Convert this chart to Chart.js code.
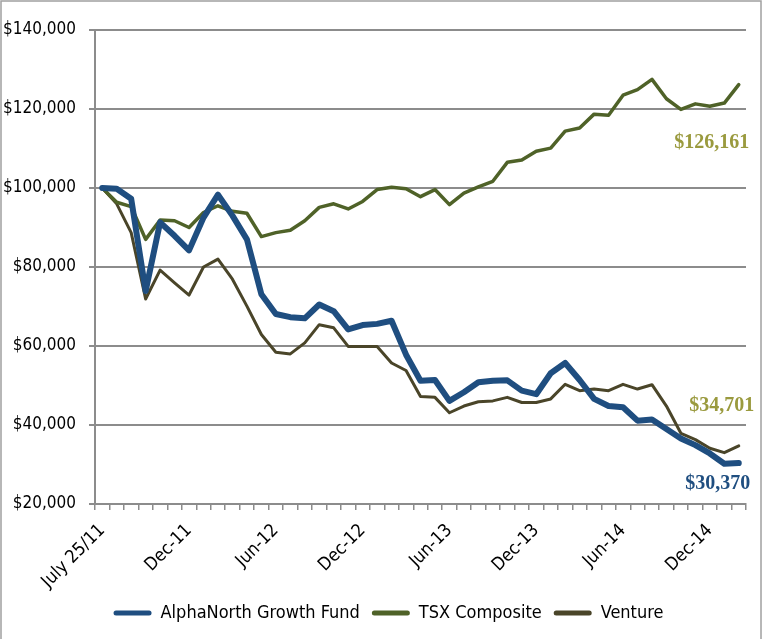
<!DOCTYPE html>
<html>
<head>
<meta charset="utf-8">
<script src="https://cdn.jsdelivr.net/npm/chart.js@4.4.1/dist/chart.umd.min.js"></script>
<style>
  html, body { margin: 0; padding: 0; background: #fff; }
  #wrap { width: 770px; height: 639px; }
</style>
</head>
<body>
<div id="wrap"><canvas id="chart" width="770" height="639"></canvas></div>
<script>
// month-end dates, first point is the fund start
const dates = [
    'July 25/11', 'Jul-11', 'Aug-11', 'Sep-11', 'Oct-11', 'Nov-11',
    'Dec-11', 'Jan-12', 'Feb-12', 'Mar-12', 'Apr-12', 'May-12',
    'Jun-12', 'Jul-12', 'Aug-12', 'Sep-12', 'Oct-12', 'Nov-12',
    'Dec-12', 'Jan-13', 'Feb-13', 'Mar-13', 'Apr-13', 'May-13',
    'Jun-13', 'Jul-13', 'Aug-13', 'Sep-13', 'Oct-13', 'Nov-13',
    'Dec-13', 'Jan-14', 'Feb-14', 'Mar-14', 'Apr-14', 'May-14',
    'Jun-14', 'Jul-14', 'Aug-14', 'Sep-14', 'Oct-14', 'Nov-14',
    'Dec-14', 'Jan-15', 'Feb-15'
];

const alphaNorth = [
    100000, 99800, 97300, 73900, 91300, 87900,
    84200, 92500, 98300, 93000, 87000, 73100,
    68100, 67300, 67000, 70500, 68800, 64200,
    65300, 65600, 66400, 57800, 51200, 51400,
    46100, 48300, 50800, 51200, 51300, 48700,
    47800, 53100, 55700, 51400, 46600, 44800,
    44500, 41100, 41400, 39000, 36600, 34900,
    32800, 30200, 30370
];

const tsx = [
    100000, 96400, 95300, 87000, 91900, 91700,
    90000, 93800, 95500, 94100, 93600, 87700,
    88700, 89300, 91700, 95100, 96000, 94700,
    96600, 99600, 100200, 99800, 97800, 99600,
    95800, 98700, 100300, 101700, 106500, 107100,
    109300, 110100, 114400, 115200, 118700, 118400,
    123500, 124900, 127500, 122600, 119900, 121300,
    120700, 121500, 126161
];

const venture = [
    100000, 96000, 88700, 71900, 79200, 76000,
    72900, 80000, 82000, 76900, 70100, 62900,
    58400, 58000, 60800, 65400, 64600, 59900,
    59900, 59900, 55700, 53800, 47200, 47000,
    43100, 44800, 45900, 46100, 47000, 45700,
    45700, 46600, 50300, 48700, 49100, 48700,
    50300, 49100, 50200, 44800, 37900, 36300,
    34100, 33000, 34701
];

const yTicks = [20000, 40000, 60000, 80000, 100000, 120000, 140000];

const BLUE = '#1f4e80';
const GREEN = '#4f6228';
const BROWN = '#4a4529';
const OLIVE = '#9a9a3e';
const GRID = '#8c8c8c';
const sansFont = "'DejaVu Sans Condensed', 'DejaVu Sans', sans-serif";
const serifFont = "'Liberation Serif', 'DejaVu Serif', serif";

const money = v => '$' + Number(v).toLocaleString('en-US');

// end values written next to the last point of each line
const endLabels = [
    { ds: 1, color: OLIVE, dx: -27, dy: 58 },
    { ds: 2, color: OLIVE, dx: -17, dy: -40 },
    { ds: 0, color: BLUE, dx: -21, dy: 21 }
];

const endLabelPlugin = {
    id: 'endLabels',
    afterDatasetsDraw(chart) {
        const { ctx } = chart;
        ctx.save();
        ctx.font = 'bold 20px ' + serifFont;
        ctx.textAlign = 'center';
        ctx.textBaseline = 'middle';
        endLabels.forEach(l => {
            const data = chart.data.datasets[l.ds].data;
            const last = data.length - 1;
            const x = chart.scales.x.getPixelForValue(last);
            const y = chart.scales.y.getPixelForValue(data[last]);
            ctx.fillStyle = l.color;
            ctx.fillText(money(data[last]), x + l.dx, y + l.dy);
        });
        ctx.restore();
    }
};

// grey frame round the picture, plus legend nudged to sit under the plot
const framePlugin = {
    id: 'frame',
    afterLayout(chart) {
        if (chart.legend) chart.legend.left += 31;
    },
    beforeDraw(chart) {
        const { ctx } = chart;
        ctx.save();
        ctx.fillStyle = '#fff';
        ctx.fillRect(0, 0, chart.width, chart.height);
        ctx.strokeStyle = '#a0a0a0';
        ctx.lineWidth = 1.5;
        ctx.strokeRect(1, 1, 760, chart.height + 10);
        ctx.restore();
    }
};

const line = (label, data, color, width) => ({
    label,
    data,
    borderColor: color,
    backgroundColor: color,
    borderWidth: width,
    pointRadius: 0,
    tension: 0,
    borderJoinStyle: 'round',
    borderCapStyle: 'round'
});

new Chart(document.getElementById('chart'), {
    type: 'line',
    data: {
        labels: dates,
        datasets: [
            line('AlphaNorth Growth Fund', alphaNorth, BLUE, 6),
            line('TSX Composite', tsx, GREEN, 3.5),
            line('Venture', venture, BROWN, 3)
        ]
    },
    options: {
        responsive: false,
        animation: false,
        layout: { padding: { left: 0, right: 24, top: 30, bottom: 7 } },
        plugins: {
            legend: {
                position: 'bottom',
                labels: {
                    font: { family: sansFont, size: 18 },
                    color: '#000',
                    boxWidth: 38,
                    boxHeight: 5,
                    padding: 12,
                    generateLabels(chart) {
                        return chart.data.datasets.map((ds, i) => ({
                            text: ds.label,
                            fillStyle: ds.borderColor,
                            strokeStyle: ds.borderColor,
                            lineWidth: 0,
                            borderRadius: 2.5,
                            datasetIndex: i
                        }));
                    }
                }
            },
            tooltip: { enabled: false }
        },
        scales: {
            x: {
                offset: true,
                grid: {
                    offset: true,
                    drawOnChartArea: false,
                    drawTicks: true,
                    tickLength: 6,
                    color: GRID,
                    lineWidth: 1.5
                },
                border: { color: GRID, width: 2 },
                ticks: {
                    autoSkip: false,
                    maxRotation: 45,
                    minRotation: 45,
                    padding: 10,
                    color: '#000',
                    font: { family: sansFont, size: 18 },
                    callback(value, index) {
                        return index % 6 === 0 ? dates[index] : '';
                    }
                },
                afterFit(scale) { scale.height = 88; }
            },
            y: {
                min: 20000,
                max: 140000,
                afterBuildTicks(scale) {
                    scale.ticks = yTicks.map(v => ({ value: v }));
                },
                grid: {
                    color: GRID,
                    lineWidth: 2,
                    tickLength: 6
                },
                border: { color: GRID, width: 2 },
                ticks: {
                    padding: 13,
                    color: '#000',
                    font: { family: sansFont, size: 17 },
                    callback: v => money(v)
                },
                afterFit(scale) { scale.width = 95; }
            }
        }
    },
    plugins: [framePlugin, endLabelPlugin]
});
</script>
</body>
</html>
